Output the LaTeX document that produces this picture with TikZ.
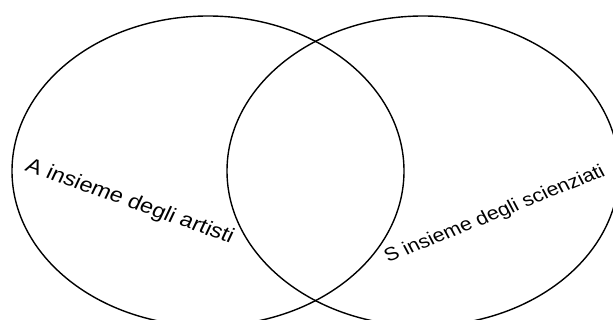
\documentclass[tikz,border=0pt]{standalone}
\usepackage{fontspec}
\setmainfont{Liberation Sans}
\begin{document}
\begin{tikzpicture}[x=1pt,y=-1pt,
  lab/.style={inner sep=0pt, anchor=base west},
  setline/.style={line width=1.4pt}]
\useasboundingbox (0,0) rectangle (613,320);
\clip (0,0) rectangle (613,320);
\fill[white] (0,0) rectangle (613,320);
\draw[setline] (208,171) ellipse [x radius=196, y radius=155];
\draw[setline] (423,171) ellipse [x radius=196, y radius=155];
\node[lab, font=\fontsize{20.5}{21}\selectfont, xscale=1.15, rotate=-22.3] (A) at (24,170) {A insieme degli artisti};
\node[lab, font=\fontsize{18.7}{19}\selectfont, xscale=1.15, rotate=24.8] (S) at (388,263) {S insieme degli scienziati};
\end{tikzpicture}
\end{document}
